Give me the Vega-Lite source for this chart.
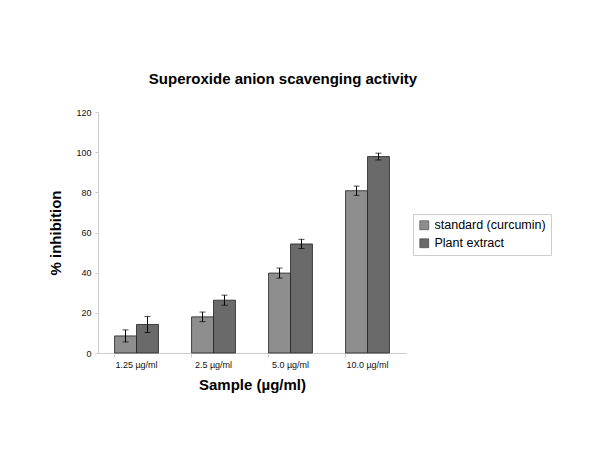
{
  "$schema": "https://vega.github.io/schema/vega-lite/v6.json",
  "autosize": {"type": "none"},
  "width": 308,
  "height": 241,
  "padding": {"left": 98, "top": 112, "right": 194, "bottom": 111},
  "background": "white",
  "config": {
    "font": "Liberation Sans",
    "view": {"stroke": null}
  },
  "title": {
    "text": "Superoxide anion scavenging activity",
    "fontSize": 15,
    "fontWeight": "bold",
    "color": "black",
    "dx": 31,
    "offset": 21
  },
  "data": {
    "values": [
      {"sample": "1.25 µg/ml", "series": "standard (curcumin)", "value": 8.5, "lo": 5.5, "hi": 11.5},
      {"sample": "1.25 µg/ml", "series": "Plant extract", "value": 14.2, "lo": 10.2, "hi": 18.2},
      {"sample": "2.5 µg/ml", "series": "standard (curcumin)", "value": 18.0, "lo": 15.6, "hi": 20.4},
      {"sample": "2.5 µg/ml", "series": "Plant extract", "value": 26.3, "lo": 23.8, "hi": 28.8},
      {"sample": "5.0 µg/ml", "series": "standard (curcumin)", "value": 39.8, "lo": 37.3, "hi": 42.3},
      {"sample": "5.0 µg/ml", "series": "Plant extract", "value": 54.3, "lo": 52.0, "hi": 56.6},
      {"sample": "10.0 µg/ml", "series": "standard (curcumin)", "value": 80.8, "lo": 78.5, "hi": 83.1},
      {"sample": "10.0 µg/ml", "series": "Plant extract", "value": 97.8, "lo": 96.1, "hi": 99.5}
    ]
  },
  "encoding": {
    "x": {
      "field": "sample",
      "type": "nominal",
      "sort": ["1.25 µg/ml", "2.5 µg/ml", "5.0 µg/ml", "10.0 µg/ml"],
      "scale": {"paddingInner": 0.43, "paddingOuter": 0.215},
      "axis": {
        "title": "Sample (µg/ml)",
        "titleFontSize": 15,
        "titleFontWeight": "bold",
        "titleColor": "black",
        "titlePadding": 8,
        "labelAngle": 0,
        "labelFontSize": 9,
        "labelColor": "#111",
        "labelPadding": 3,
        "bandPosition": 0,
        "tickSize": 4,
        "tickColor": "#ccc",
        "domainColor": "#ccc",
        "grid": false
      }
    },
    "xOffset": {
      "field": "series",
      "type": "nominal",
      "sort": ["standard (curcumin)", "Plant extract"],
      "scale": {"paddingInner": 0, "paddingOuter": 0}
    }
  },
  "layer": [
    {
      "mark": {"type": "bar", "stroke": "#222", "strokeWidth": 0.8},
      "encoding": {
        "y": {
          "field": "value",
          "type": "quantitative",
          "scale": {"domain": [0, 120]},
          "axis": {
            "title": "% inhibition",
            "titleFontSize": 15,
            "titleFontWeight": "bold",
            "titleColor": "black",
            "titlePadding": 12,
            "values": [0, 20, 40, 60, 80, 100, 120],
            "labelFontSize": 9,
            "labelColor": "#111",
            "labelPadding": 4,
            "tickSize": 3,
            "tickColor": "#ccc",
            "domainColor": "#ccc",
            "grid": false
          }
        },
        "color": {
          "field": "series",
          "type": "nominal",
          "sort": ["standard (curcumin)", "Plant extract"],
          "scale": {"range": ["#8e8e8e", "#6a6a6a"]},
          "legend": {
            "title": null,
            "orient": "none",
            "legendX": 315,
            "legendY": 102,
            "labelFontSize": 12.5,
            "labelColor": "black",
            "symbolType": "square",
            "symbolSize": 80,
            "symbolStrokeColor": "#222",
            "symbolStrokeWidth": 0.5,
            "rowPadding": 5,
            "padding": 5,
            "strokeColor": "#ccc",
            "fillColor": "white"
          }
        }
      }
    },
    {
      "mark": {"type": "rule", "color": "black", "strokeWidth": 1},
      "encoding": {
        "y": {"field": "lo", "type": "quantitative"},
        "y2": {"field": "hi"}
      }
    },
    {
      "mark": {"type": "tick", "color": "black", "thickness": 1, "size": 6},
      "encoding": {"y": {"field": "hi", "type": "quantitative"}}
    },
    {
      "mark": {"type": "tick", "color": "black", "thickness": 1, "size": 6},
      "encoding": {"y": {"field": "lo", "type": "quantitative"}}
    }
  ]
}
